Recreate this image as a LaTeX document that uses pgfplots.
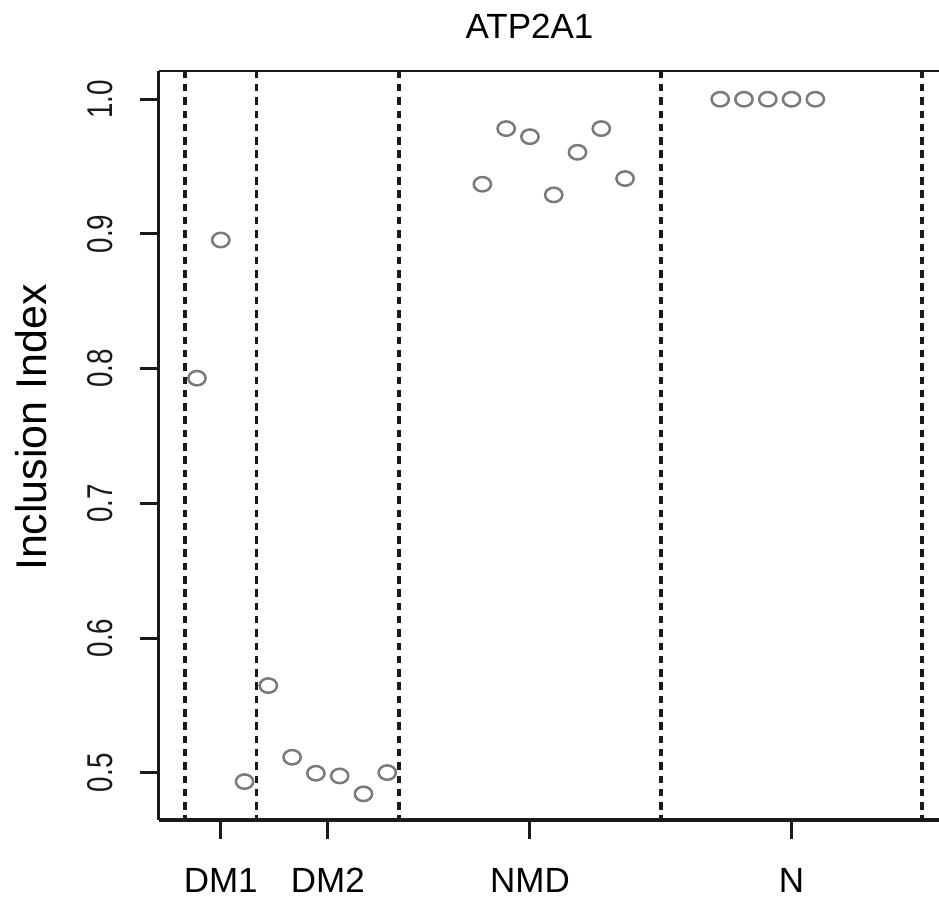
\documentclass[border=0pt]{standalone}
\usepackage{pgfplots}
\pgfplotsset{compat=1.18}
\usepackage{fontspec}
\setmainfont{Liberation Sans}
\definecolor{frame}{HTML}{1A1A1A}
\definecolor{pt}{HTML}{7A7A7A}
\begin{document}
\begin{tikzpicture}
\path[use as bounding box] (-158.7pt,-81pt) rectangle (780.3pt,820pt);
\begin{axis}[
  scale only axis,
  width=780.3pt, height=749.3pt,
  at={(0,0)}, anchor=south west,
  xmin=-0.61, xmax=32.2,
  ymin=0.4649, ymax=1.0212,
  axis x line*=bottom, axis y line*=left,
  axis line style={frame, line width=3.4pt, -},
  tick style={frame, line width=3pt},
  major tick style={frame, line width=3pt},
  tick align=outside,
  major tick length=19pt,
  xtick={2,6.5,15,26},
  xticklabels={DM1,DM2,NMD,N},
  ytick={0.5,0.6,0.7,0.8,0.9,1.0},
  yticklabels={\scalebox{1}[1.29]{0.5},\scalebox{1}[1.29]{0.6},\scalebox{1}[1.29]{0.7},\scalebox{1}[1.29]{0.8},\scalebox{1}[1.29]{0.9},\scalebox{1}[1.29]{1.0}},
  xticklabel style={font=\fontsize{35}{40}\selectfont, yshift=-53pt, anchor=base, inner sep=0pt},
  yticklabel style={font=\fontsize{27.8}{32}\selectfont, xshift=-27.5pt, rotate=90, anchor=base, inner sep=0pt, text=frame},
  clip=true,
]
\pgfplotsinvokeforeach{0.5,3.5,9.5,20.5,31.5}{
  \addplot[frame, line width=3.8pt, dash pattern=on 7.5pt off 5.8pt] coordinates {(#1,1.0212) (#1,0.4649)};
}
\addplot[only marks, mark=o, pt, mark size=7.2pt, mark options={xscale=1.2, line width=2.5pt}] coordinates {
  (1,0.7929) (2,0.8955) (3,0.4934)
  (4,0.5647) (5,0.5115) (6,0.4996) (7,0.4976) (8,0.4843) (9,0.5001)
  (13,0.9369) (14,0.9782) (15,0.9722) (16,0.9290) (17,0.9606) (18,0.9782) (19,0.9411)
  (23,1.0) (24,1.0) (25,1.0) (26,1.0) (27,1.0)
};
\draw[frame, line width=3.4pt] (rel axis cs:0,1) -- (rel axis cs:1,1);
\end{axis}
\node[anchor=base, font=\fontsize{35}{40}\selectfont, inner sep=0pt] at (370.8pt,781pt) {ATP2A1};
\node[anchor=base, rotate=90, font=\fontsize{43}{48}\selectfont, inner sep=0pt] at (-112pt,392.5pt) {Inclusion Index};
\end{tikzpicture}
\end{document}
